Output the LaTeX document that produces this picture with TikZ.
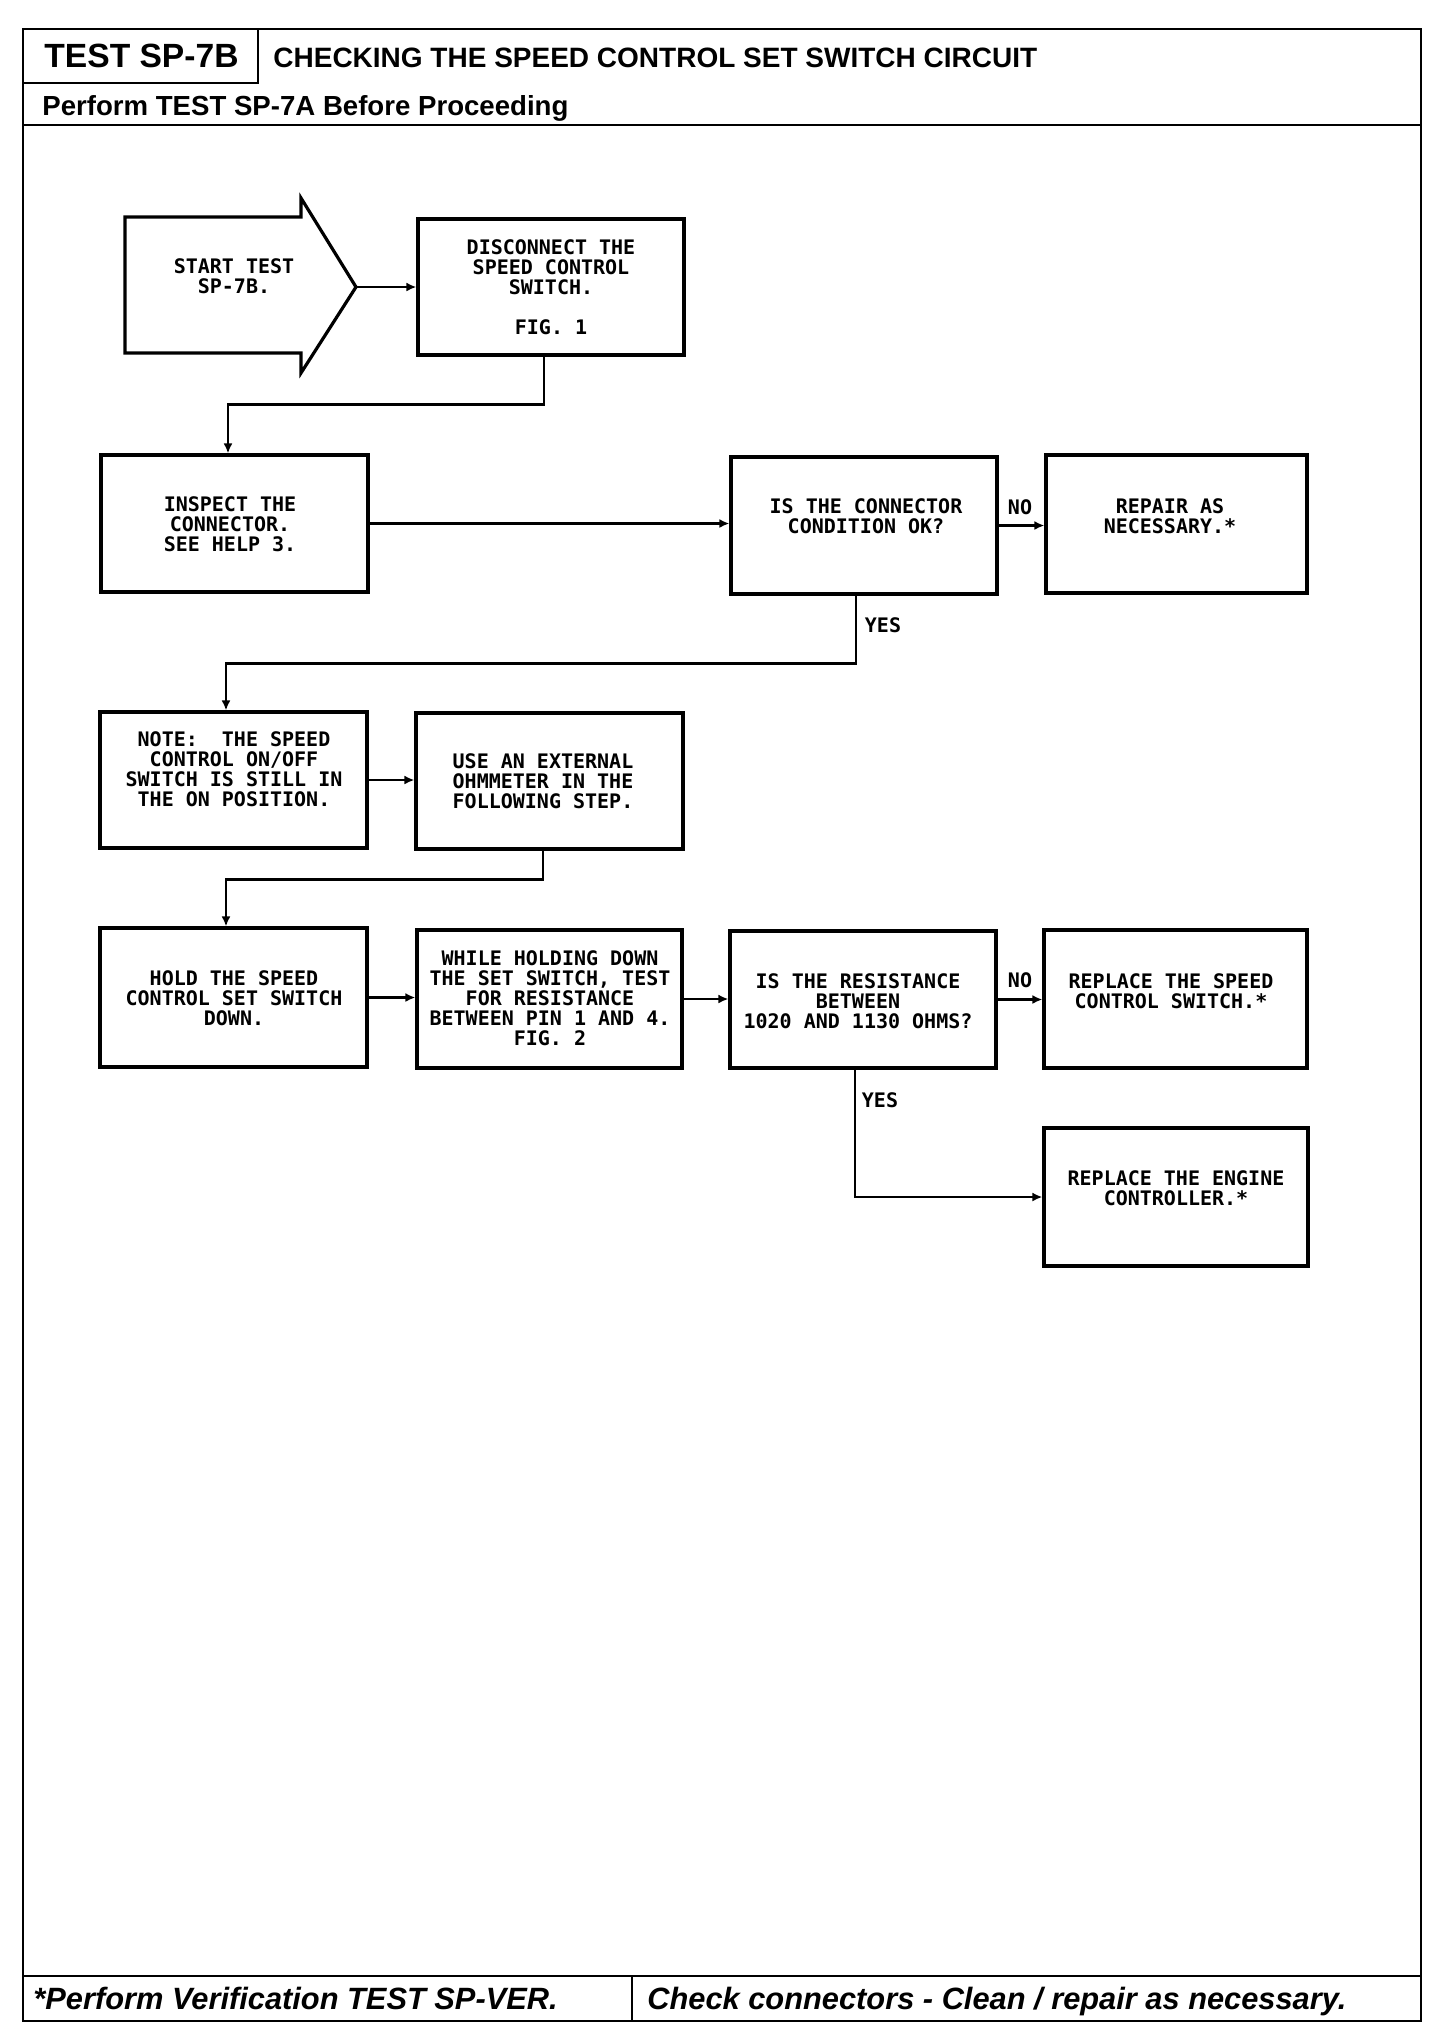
\documentclass[tikz,border=0pt]{standalone}
\usepackage{fontspec}
\setmainfont{Liberation Sans}
\newfontfamily\monofnt{DejaVu Sans Mono}
\usetikzlibrary{arrows.meta,calc}
\begin{document}
\begin{tikzpicture}[x=0.5pt,y=-0.5pt,
  box/.style={draw, line width=1.6pt, inner sep=0pt, rectangle},
  txt/.style={font=\monofnt\bfseries\fontsize{10}{10}\selectfont, align=center, inner sep=0pt, anchor=north},
  lbl/.style={font=\monofnt\bfseries\fontsize{10}{10}\selectfont, inner sep=0pt},
  arr/.style={line width=1.4pt, -{Latex[length=5pt,width=4.5pt]}},
  frame/.style={line width=1.3pt},
  head/.style={anchor=base west, inner sep=0pt}]
\fill[white] (0,0) rectangle (1456,2042);
\useasboundingbox (0,0) rectangle (1456,2042);

% frame
\draw[frame] (23,29) rectangle (1421,2021);
\draw[frame] (23,125) -- (1421,125);
\draw[frame] (258,29) -- (258,83) -- (23,83);
\draw[frame] (23,1976) -- (1421,1976);
\draw[frame] (632,1976) -- (632,2021);

% header / footer
\node[head, font=\bfseries\fontsize{16.8}{18}\selectfont] (h1) at (44,67) {TEST SP-7B};
\node[head, font=\bfseries\fontsize{14}{16}\selectfont] (h2) at (273,67) {CHECKING THE SPEED CONTROL SET SWITCH CIRCUIT};
\node[head, font=\bfseries\fontsize{13.8}{16}\selectfont] (h3) at (42,115) {Perform TEST SP-7A Before Proceeding};
\node[head, font=\bfseries\itshape\fontsize{15.4}{18}\selectfont] (f1) at (33,2009) {*Perform Verification TEST SP-VER.};
\node[head, font=\bfseries\itshape\fontsize{15.4}{18}\selectfont] (f2) at (647,2009) {Check connectors - Clean / repair as necessary.};

% start arrow
\draw[line width=1.6pt, line join=miter] (125,217) -- (301,217) -- (301,198) -- (356,287) -- (301,373) -- (301,353) -- (125,353) -- cycle;
\coordinate (starttip) at (356,287);
\node[txt] (tstart) at (234,258) {START TEST\\SP-7B.};

% boxes
\node[box, minimum width=133pt, minimum height=68pt] (dis) at (551,287) {};
\node[box, minimum width=133.5pt, minimum height=68.5pt] (insp) at (234.5,523.5) {};
\node[box, minimum width=133pt, minimum height=68.5pt] (conn) at (864,525.5) {};
\node[box, minimum width=130.5pt, minimum height=69pt] (rep) at (1176.5,524) {};
\node[box, minimum width=133.5pt, minimum height=68pt] (note) at (233.5,780) {};
\node[box, minimum width=133.5pt, minimum height=68pt] (use) at (549.5,781) {};
\node[box, minimum width=133.5pt, minimum height=69.5pt] (hold) at (233.5,997.5) {};
\node[box, minimum width=132.5pt, minimum height=69pt] (while) at (549.5,999) {};
\node[box, minimum width=133pt, minimum height=68.5pt] (res) at (863,999.5) {};
\node[box, minimum width=131.5pt, minimum height=69pt] (rsp) at (1175.5,999) {};
\node[box, minimum width=132pt, minimum height=69pt] (reng) at (1176,1197) {};

% texts
\node[txt] (tdis) at (551,239) {DISCONNECT THE\\SPEED CONTROL\\SWITCH.\\[10pt]FIG. 1};
\node[txt] (tinsp) at (230,496) {INSPECT THE\\CONNECTOR.\\SEE HELP 3.};
\node[txt] (tconn) at (866,498) {IS THE CONNECTOR\\CONDITION OK?};
\node[txt] (trep) at (1170,498) {REPAIR AS\\NECESSARY.*};
\node[txt] (tnote) at (234,731) {NOTE:\ \ THE SPEED\\CONTROL ON/OFF\\SWITCH IS STILL IN\\THE ON POSITION.};
\node[txt] (tuse) at (543,753) {USE AN EXTERNAL\\OHMMETER IN THE\\FOLLOWING STEP.};
\node[txt] (thold) at (234,970) {HOLD THE SPEED\\CONTROL SET SWITCH\\DOWN.};
\node[txt] (twhile) at (550,950) {WHILE HOLDING DOWN\\THE SET SWITCH, TEST\\FOR RESISTANCE\\BETWEEN PIN 1 AND 4.\\FIG. 2};
\node[txt] (tres) at (858,973) {IS THE RESISTANCE\\BETWEEN\\1020 AND 1130 OHMS?};
\node[txt] (trsp) at (1171,973) {REPLACE THE SPEED\\CONTROL SWITCH.*};
\node[txt] (treng) at (1176,1170) {REPLACE THE ENGINE\\CONTROLLER.*};

% labels
\node[lbl] (no1) at (1020,507) {NO};
\node[lbl] (no2) at (1020,980) {NO};
\node[lbl] (yes1) at (883,625) {YES};
\node[lbl] (yes2) at (880,1100) {YES};

% connectors
\draw[arr] (starttip) -- (starttip -| dis.west);
\draw[arr] ([xshift=-3.5pt]dis.south) -- ++(0,48) -| ([xshift=-3.25pt]insp.north);
\draw[arr] (insp.east) -- (insp.east -| conn.west);
\draw[arr] (conn.east) -- (conn.east -| rep.west);
\draw[arr] ([xshift=-4pt]conn.south) -- ++(0,68) -| ([xshift=-3.75pt]note.north);
\draw[arr] (note.east) -- (note.east -| use.west);
\draw[arr] ([xshift=-3.25pt]use.south) -- ++(0,29) -| ([xshift=-3.75pt]hold.north);
\draw[arr] (hold.east) -- (hold.east -| while.west);
\draw[arr] (while.east) -- (while.east -| res.west);
\draw[arr] (res.east) -- (res.east -| rsp.west);
\draw[arr] ([xshift=-4pt]res.south) |- (reng.west);
\end{tikzpicture}
\end{document}
